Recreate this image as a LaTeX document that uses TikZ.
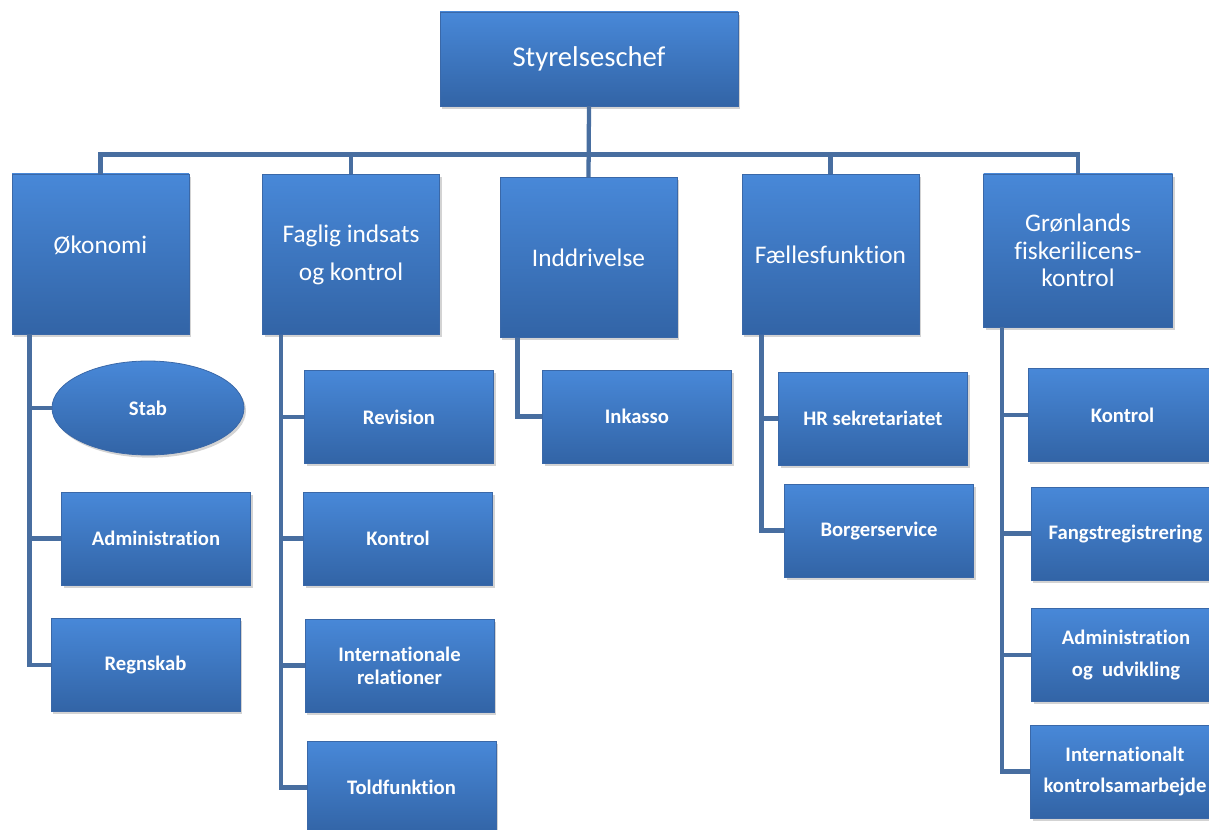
\documentclass[tikz,border=0pt]{standalone}
\usepackage{fontspec}
\setmainfont[Ligatures=NoCommon]{Carlito}
\usetikzlibrary{shapes.geometric,shadows}
\definecolor{boxtop}{RGB}{72,136,216}
\definecolor{boxbot}{RGB}{50,100,166}
\definecolor{boxrim}{RGB}{58,104,168}
\definecolor{linkblue}{RGB}{72,110,160}
\tikzset{
  box/.style={rectangle, draw=boxrim, line width=0.6pt, top color=boxtop, bottom color=boxbot,
    text=white, align=center, inner sep=0pt,
    drop shadow={shadow xshift=1.5pt, shadow yshift=-2pt, opacity=0.35}},
  chief/.style={box, minimum width=298*0.75pt, minimum height=94*0.75pt, font=\fontsize{21.5}{26}\selectfont},
  unit/.style={box, minimum width=177*0.75pt, minimum height=160*0.75pt, font=\fontsize{19}{20.6}\selectfont},
  sub/.style={box, minimum width=189*0.75pt, minimum height=93*0.75pt, font=\fontsize{15.5}{17.3}\selectfont\bfseries},
  link/.style={draw=linkblue, line width=3.2pt}
}
\begin{document}
\begin{tikzpicture}[x=0.75pt, y=-0.75pt]
        \useasboundingbox (0,0) rectangle (1209,830);
        \clip (0,0) rectangle (1209,830);
        % top
        \node[chief] (chief) at (589,59) {Styrelseschef};
        % first level
        \node[unit] (oek) at (100.5,254) {\raisebox{14pt}{Økonomi}};
        \node[unit] (fag) at (351,254.5) {Faglig indsats\\[8pt]og kontrol};
        \node[unit] (indd) at (588.5,257.5) {Inddrivelse};
        \node[unit] (faelles) at (830.5,254.5) {Fællesfunktion};
        \node[unit, minimum width=189*0.75pt, minimum height=153*0.75pt] (groen) at (1078,250.5) {Grønlands\\fiskerilicens-\\kontrol};
        % Økonomi
        \node[box, ellipse, minimum width=192*0.75pt, minimum height=94*0.75pt,
              font=\fontsize{15.5}{17.3}\selectfont\bfseries] (stab) at (148,408) {Stab};
        \node[sub] (oekadm) at (156,538.5) {Administration};
        \node[sub] (regn) at (145.5,665) {Regnskab};
        % Faglig indsats og kontrol
        \node[sub] (rev) at (399,417) {Revision};
        \node[sub] (fagktr) at (398,538.5) {Kontrol};
        \node[sub] (intrel) at (399.5,665.5) {Internationale\\relationer};
        \node[sub] (told) at (401.5,787.5) {Toldfunktion};
        % Inddrivelse
        \node[sub] (inkasso) at (637,416.5) {Inkasso};
        % Fællesfunktion
        \node[sub] (hr) at (873,418.5) {HR sekretariatet};
        \node[sub] (borger) at (879,530.5) {Borgerservice};
        % Grønlands fiskerilicenskontrol
        \node[sub] (groenktr) at (1122.5,415) {Kontrol};
        \node[sub] (fangst) at (1125.5,533.5) {Fangstregistrering};
        \node[sub] (groenadm) at (1126,655) {Administration\\[7pt]og\ \ udvikling};
        \node[sub] (intsam) at (1125,771.5) {Internationalt\\[6pt]kontrolsamarbejde};
        % bus
        \draw[link] (chief.south) -- ++(0,48) -| (oek.north);
        \draw[link] (chief.south) -- ++(0,48) -| (fag.north);
        \draw[link] (chief.south) -- (indd.north);
        \draw[link] (chief.south) -- ++(0,48) -| (faelles.north);
        \draw[link] (chief.south) -- ++(0,48) -| (groen.north);
        % branches
        \draw[link] (oek.south west) ++(18,0) |- (stab.west);
        \draw[link] (oek.south west) ++(18,0) |- (oekadm.west);
        \draw[link] (oek.south west) ++(18,0) |- (regn.west);
        \draw[link] (fag.south west) ++(19,0) |- (rev.west);
        \draw[link] (fag.south west) ++(19,0) |- (fagktr.west);
        \draw[link] (fag.south west) ++(19,0) |- (intrel.west);
        \draw[link] (fag.south west) ++(19,0) |- (told.west);
        \draw[link] (indd.south west) ++(18,0) |- (inkasso.west);
        \draw[link] (faelles.south west) ++(20,0) |- (hr.west);
        \draw[link] (faelles.south west) ++(20,0) |- (borger.west);
        \draw[link] (groen.south west) ++(19,0) |- (groenktr.west);
        \draw[link] (groen.south west) ++(19,0) |- (fangst.west);
        \draw[link] (groen.south west) ++(19,0) |- (groenadm.west);
        \draw[link] (groen.south west) ++(19,0) |- (intsam.west);
    \end{tikzpicture}
\end{document}
